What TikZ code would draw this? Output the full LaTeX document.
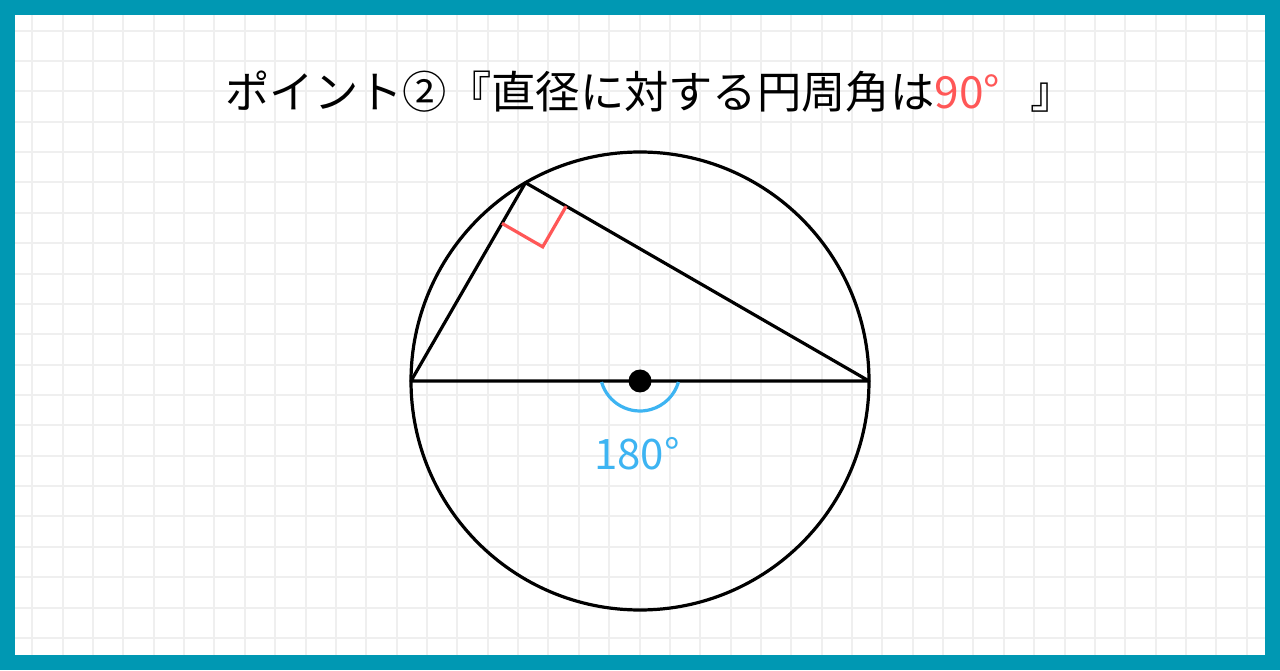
\documentclass[tikz,border=0pt]{standalone}
\usepackage{fontspec}
\setmainfont{Noto Sans CJK JP}
\usetikzlibrary{calc}
\definecolor{framec}{HTML}{0098B3}
\definecolor{gridc}{HTML}{EFEFEF}
\definecolor{redm}{HTML}{FF5757}
\definecolor{bluem}{HTML}{3DB4F2}
\begin{document}
\begin{tikzpicture}[x=1pt,y=1pt,
  gridline/.style={gridc, line width=2pt},
  figline/.style={black, line width=3.2pt, line join=round},
  markline/.style={line width=3.2pt}]
\useasboundingbox (0,0) rectangle (1280,670);
\fill[framec] (0,0) rectangle (1280,670);
\fill[white] (15,15) rectangle (1265,655);
\foreach \k in {0,...,40} \draw[gridline] ({32.3+30.36*\k},15) -- ({32.3+30.36*\k},655);
\foreach \k in {0,...,20} \draw[gridline] (15,{639.3-30.36*\k}) -- (1265,{639.3-30.36*\k});
% geometry
\coordinate (O) at (640,289);
\coordinate (A) at (411,289);
\coordinate (B) at (869,289);
\coordinate (C) at ($(O)+(120:229)$);
\coordinate (P) at ($(C)!47pt!(A)$);
\coordinate (Q) at ($(C)!47pt!(B)$);
\coordinate (R) at ($(P)+(Q)-(C)$);
\draw[figline] (O) circle (229);
\draw[figline] (A) -- (C) -- (B) -- cycle;
\draw[markline, redm] (P) -- (R) -- (Q);
\draw[markline, bluem] ($(O)+(0,10)+(196:40)$) arc[start angle=196, end angle=344, radius=40];
\fill (O) circle (11.5);
\node[text=bluem, font=\fontsize{42}{42}\selectfont] (lab) at (637,216.5) {180°};
\node[font=\fontsize{44.3}{44.3}\selectfont] (title) at (650,578) {ポイント②『直径に対する円周角は\textcolor{redm}{90°}\hspace{30pt}』};
\end{tikzpicture}
\end{document}
